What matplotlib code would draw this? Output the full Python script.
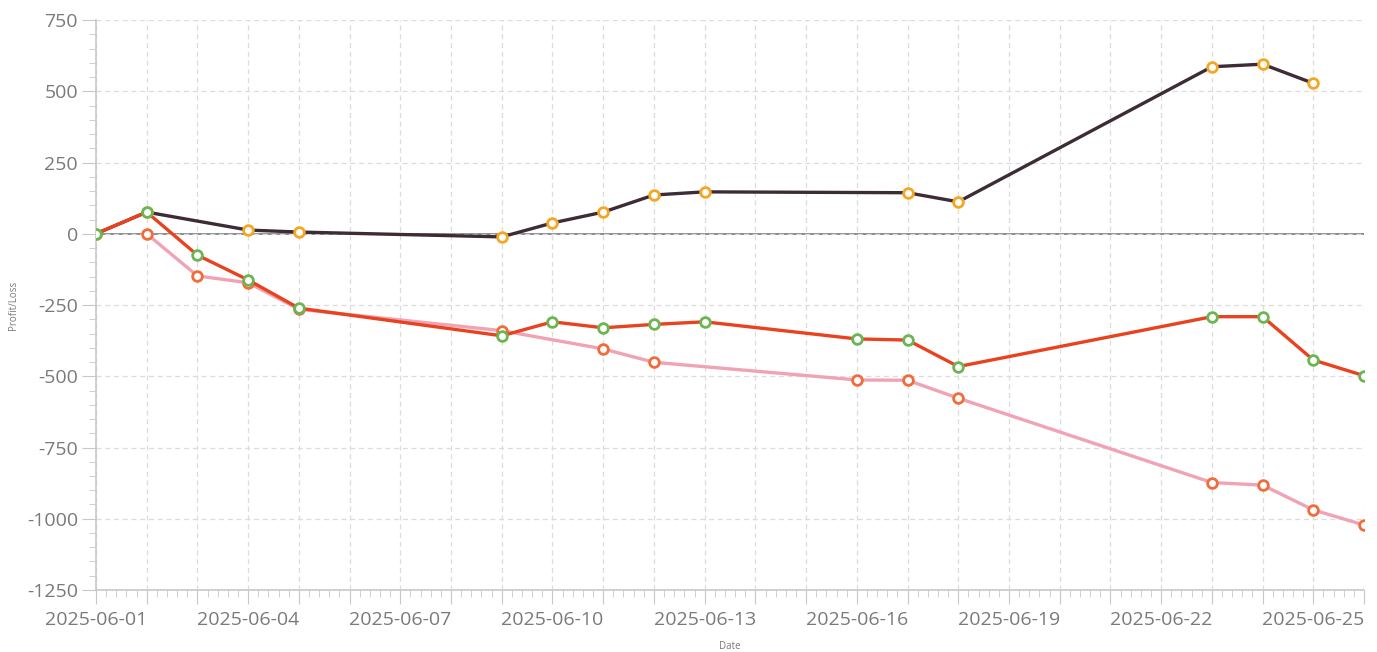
import numpy as np
import pandas as pd
import matplotlib
matplotlib.use('Agg')
import matplotlib.pyplot as plt
import matplotlib.dates as mdates
from matplotlib.ticker import MultipleLocator, FuncFormatter

plt.rcParams['font.family'] = ['Open Sans', 'DejaVu Sans']
plt.rcParams['axes.unicode_minus'] = False

# Series data (day of June 2025 -> profit/loss)
total_days = [1, 2, 4, 5, 9, 10, 11, 12, 13, 17, 18, 23, 24, 25]
total_vals = [0, 76, 13, 6, -11, 38, 76, 136, 147, 144, 112, 586, 595, 528]

realized_days = [1, 2, 3, 4, 5, 9, 10, 11, 12, 13, 16, 17, 18, 23, 24, 25, 26]
realized_vals = [0, 76, -75, -162, -261, -358, -309, -330, -318, -309,
                 -369, -373, -466, -291, -291, -443, -498]

fees_days = [2, 3, 4, 5, 9, 11, 12, 16, 17, 18, 23, 24, 25, 26]
fees_vals = [0, -148, -172, -265, -340, -404, -451, -513, -514, -577,
             -873, -882, -969, -1022]


def to_dates(days):
    return pd.to_datetime(['2025-06-%02d' % d for d in days])


fig = plt.figure(figsize=(13.77, 6.52), dpi=100)
ax = fig.add_axes([0.0697, 0.0951, 0.9209, 0.8742])

ax.axhline(0, color='#8c8c8c', lw=1.4, zorder=1)

ax.plot(to_dates(total_days), total_vals, color='#3d2b36', lw=2.4, zorder=2,
        marker='o', ms=7, mfc='white', mec='#f5a623', mew=2)
ax.plot(to_dates(fees_days), fees_vals, color='#f0a3b5', lw=2.4, zorder=3,
        marker='o', ms=7, mfc='white', mec='#f26b3a', mew=2)
ax.plot(to_dates(realized_days), realized_vals, color='#e8421e', lw=2.4, zorder=4,
        marker='o', ms=7, mfc='white', mec='#6bb552', mew=2)

ax.set_xlim(pd.Timestamp('2025-06-01'), pd.Timestamp('2025-06-26'))
ax.set_ylim(-1250, 750)

start = mdates.date2num(pd.Timestamp('2025-06-01'))
ax.xaxis.set_major_locator(mdates.DayLocator(interval=1))
ax.xaxis.set_minor_locator(MultipleLocator(0.2))


def date_fmt(x, pos):
    d = int(round(x - start))
    if d % 3 == 0:
        return mdates.num2date(x).strftime('%Y-%m-%d')
    return ''


ax.xaxis.set_major_formatter(FuncFormatter(date_fmt))
ax.yaxis.set_major_locator(MultipleLocator(250))
ax.yaxis.set_minor_locator(MultipleLocator(50))

ax.grid(True, which='major', color='#dcdcdc', linestyle=(0, (4, 3)), lw=0.9)
for s in ['top', 'right']:
    ax.spines[s].set_visible(False)
for s in ['left', 'bottom']:
    ax.spines[s].set_color('#c8c8c8')
    ax.spines[s].set_linewidth(1.2)

ax.tick_params(which='major', length=10, color='#c8c8c8', labelsize=14,
               labelcolor='#7a7a7a', pad=3)
ax.tick_params(axis='x', which='major', pad=5)
ax.tick_params(which='minor', length=5, color='#c8c8c8')

ax.set_xlabel('Date', fontsize=7, color='#7a7a7a', labelpad=9)
ax.set_ylabel('Profit/Loss', fontsize=7, color='#7a7a7a')
ax.yaxis.set_label_coords(-0.0607, 0.5)

fig.savefig('out.png', dpi=100)
